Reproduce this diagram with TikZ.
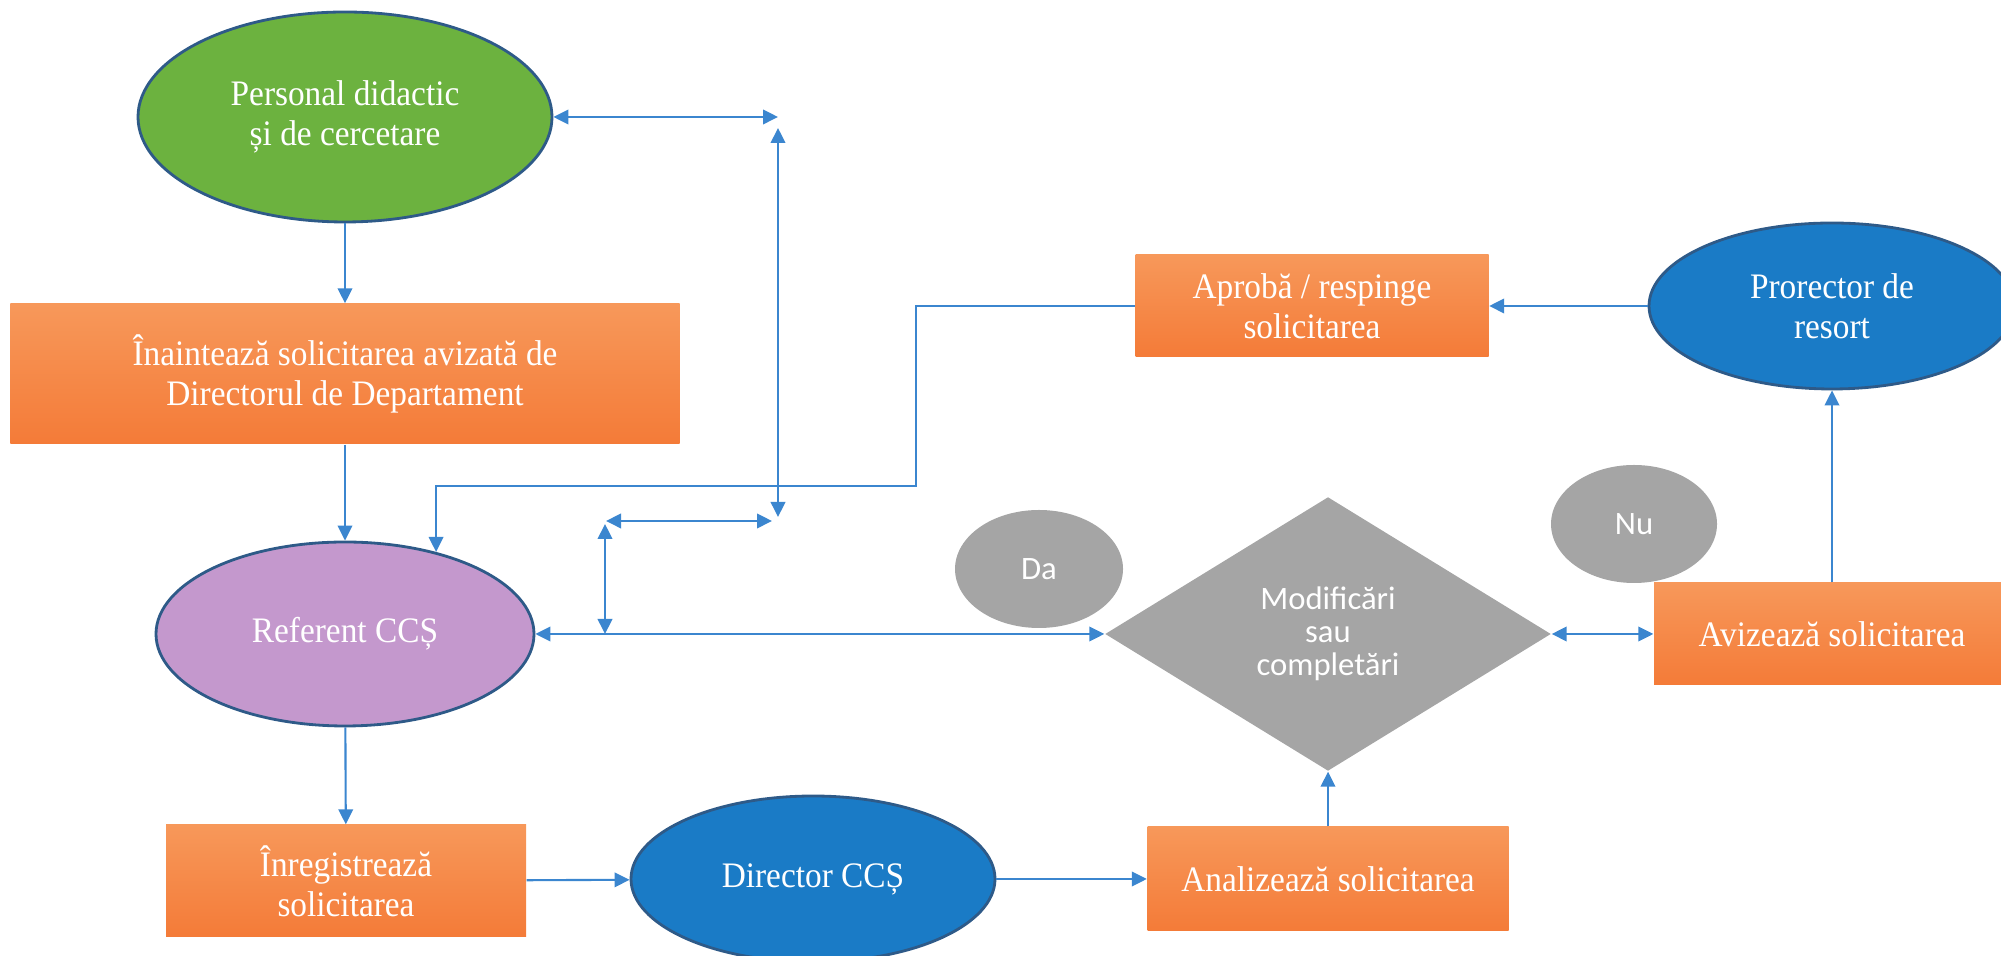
\documentclass[tikz,border=0pt]{standalone}
\usepackage{fontspec}
\setmainfont{Liberation Serif}[FakeStretch=0.93]
\newfontfamily\calibri{Carlito}
\usepackage{tikz}
\usetikzlibrary{arrows.meta,shapes.geometric}

\definecolor{greenfill}{HTML}{6CB23F}
\definecolor{purplefill}{HTML}{C498CD}
\definecolor{bluefill}{HTML}{1A7BC6}
\definecolor{ovalline}{HTML}{2E5A88}
\definecolor{boxtop}{HTML}{F7985A}
\definecolor{boxbot}{HTML}{F47B38}
\definecolor{greyfill}{HTML}{A5A5A5}
\definecolor{linkblue}{HTML}{3B86CF}

\begin{document}
\begin{tikzpicture}[every node/.style={inner sep=0pt, text=white, align=center},
                    box/.style={rectangle, top color=boxtop, bottom color=boxbot, font=\fontsize{10.2}{11.4}\selectfont},
                    oval/.style={ellipse, draw=ovalline, line width=0.8pt, font=\fontsize{10.2}{11.4}\selectfont},
                    grey/.style={fill=greyfill, font=\calibri\fontsize{9.3}{9.4}\selectfont},
                    edge/.style={line width=0.6pt, draw=linkblue},
                    arrow/.style={edge, -{Triangle[length=1.5mm, width=1.45mm]}},
                    darrow/.style={edge, {Triangle[length=1.5mm, width=1.45mm]}-{Triangle[length=1.5mm, width=1.45mm]}}]

\useasboundingbox (0,0) rectangle (20.01,9.56);

% Left column
\node[oval, fill=greenfill, minimum width=4.14cm, minimum height=2.1cm] (pers) at (3.45,8.39) {Personal didactic\\și de cercetare};
\node[box, minimum width=6.69cm, minimum height=1.4cm] (inaint) at (3.45,5.82) {Înaintează solicitarea avizată de\\Directorul de Departament};
\node[oval, fill=purplefill, minimum width=3.78cm, minimum height=1.84cm] (ref) at (3.45,3.22) {Referent CCȘ};
\node[box, minimum width=3.6cm, minimum height=1.12cm] (inreg) at (3.46,0.75) {Înregistrează\\solicitarea};

% Bottom row
\node[oval, fill=bluefill, minimum width=3.64cm, minimum height=1.66cm] (dir) at (8.13,0.77) {Director CCȘ};
\node[box, minimum width=3.61cm, minimum height=1.04cm] (anal) at (13.28,0.77) {Analizează solicitarea};

% Decision
\node[diamond, grey, minimum width=4.46cm, minimum height=2.74cm] (decis) at (13.28,3.22) {Modificări\\sau\\completări};
\node[ellipse, grey, minimum width=1.68cm, minimum height=1.18cm] (da) at (10.39,3.87) {Da};
\node[ellipse, grey, minimum width=1.66cm, minimum height=1.18cm] (nu) at (16.34,4.32) {Nu};

% Right side
\node[box, minimum width=3.56cm, minimum height=1.02cm] (aviz) at (18.32,3.22) {Avizează solicitarea};
\node[oval, fill=bluefill, minimum width=3.66cm, minimum height=1.66cm] (pror) at (18.32,6.50) {Prorector de\\resort};
\node[box, minimum width=3.53cm, minimum height=1.02cm] (aprob) at (13.12,6.50) {Aprobă / respinge\\solicitarea};

% Main flow
\draw[arrow] (pers) -- (inaint);
\draw[arrow] (inaint) -- (ref);
\draw[arrow] (ref) -- (inreg);
\draw[arrow] (inreg) -- (dir);
\draw[arrow] (dir) -- (anal);
\draw[arrow] (anal) -- (decis);
\draw[darrow] (decis) -- (aviz);
\draw[arrow] (aviz) -- (pror);
\draw[arrow] (pror) -- (aprob);
\draw[darrow] (ref) -- (decis);

% Loose double arrows
\coordinate (t1) at (7.78,8.39);
\coordinate (t2) at (7.78,8.28);
\coordinate (t3) at (7.78,4.39);
\coordinate (m1) at (7.72,4.35);
\coordinate (m2) at (6.06,4.35);
\coordinate (m3) at (6.05,4.32);
\coordinate (m4) at (6.05,3.22);
\draw[darrow] (pers) -- (t1);
\draw[darrow] (t2) -- (t3);
\draw[darrow] (m1) -- (m2);
\draw[darrow] (m3) -- (m4);

% Back to the referent
\coordinate (r1) at (9.16,4.70);
\draw[arrow] (aprob.west) -| (r1) -- (r1 -| ref.42) -- (ref.42);

\end{tikzpicture}
\end{document}
